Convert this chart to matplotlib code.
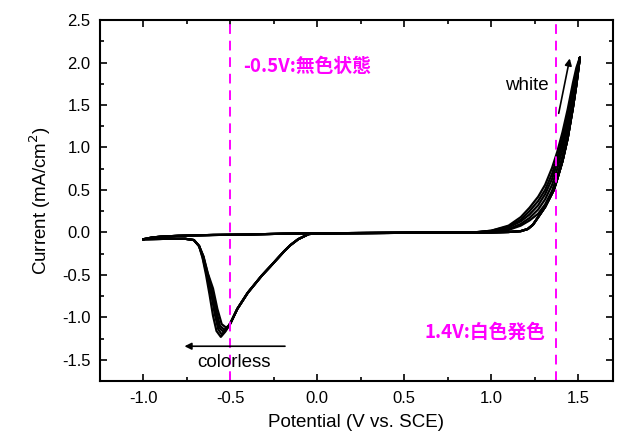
import numpy as np
import matplotlib
matplotlib.use("Agg")
import matplotlib.pyplot as plt
from matplotlib.ticker import MultipleLocator

plt.rcParams["font.family"] = ["Liberation Sans", "DejaVu Sans"]
plt.rcParams["axes.unicode_minus"] = False

# CV DATA ================================================================================

# anodic sweep, -1.0 V -> 1.51 V (common potentials, one current list per cycle)
E_fwd_base = [-1.00, -0.95, -0.90, -0.80, -0.60, -0.40, -0.20, 0.00, 0.50]
I_fwd_base = [-0.08, -0.06, -0.05, -0.04, -0.03, -0.025, -0.015, -0.01, -0.005]
E_fwd_rise = [0.90, 1.00, 1.10, 1.17, 1.22, 1.27, 1.31, 1.35, 1.38, 1.41, 1.44, 1.47, 1.49, 1.51]
I_fwd_rise = [
    [0.00, 0.02, 0.08, 0.18, 0.29, 0.42, 0.56, 0.76, 0.95, 1.18, 1.45, 1.76, 1.94, 2.06],
    [0.00, 0.02, 0.07, 0.15, 0.25, 0.37, 0.50, 0.69, 0.88, 1.11, 1.39, 1.70, 1.90, 2.06],
    [0.00, 0.015, 0.06, 0.13, 0.21, 0.32, 0.45, 0.63, 0.82, 1.05, 1.32, 1.64, 1.86, 2.06],
    [0.00, 0.01, 0.04, 0.10, 0.17, 0.27, 0.39, 0.56, 0.75, 0.98, 1.25, 1.58, 1.82, 2.06],
    [0.00, 0.01, 0.03, 0.08, 0.14, 0.22, 0.33, 0.49, 0.67, 0.90, 1.17, 1.52, 1.78, 2.06],
]

# cathodic sweep, 1.51 V -> -0.50 V (shared by all cycles)
E_rev = [1.51, 1.49, 1.47, 1.44, 1.41, 1.38, 1.36, 1.33, 1.31, 1.27, 1.24, 1.21, 1.17,
         1.10, 1.00, 0.50, 0.00, -0.05, -0.08, -0.11, -0.155, -0.19, -0.23, -0.27, -0.32,
         -0.36, -0.40, -0.46, -0.50]
I_rev = [2.06, 1.74, 1.47, 1.11, 0.84, 0.63, 0.50, 0.38, 0.30, 0.18, 0.09, 0.04, 0.015,
         0.005, 0.00, -0.005, -0.01, -0.02, -0.05, -0.08, -0.15, -0.22, -0.31, -0.40, -0.51,
         -0.61, -0.71, -0.90, -1.07]

# reduction peak (colourless state), -0.50 V -> -1.0 V, one list per cycle
E_peak = [
    [-0.50, -0.53, -0.555, -0.58, -0.60, -0.62, -0.64, -0.66, -0.68, -0.71, -0.76, -0.85, -1.00],
    [-0.50, -0.525, -0.55, -0.57, -0.59, -0.61, -0.635, -0.66, -0.68, -0.71, -0.76, -0.85, -1.00],
    [-0.50, -0.52, -0.54, -0.565, -0.585, -0.61, -0.635, -0.655, -0.68, -0.71, -0.76, -0.85, -1.00],
    [-0.50, -0.515, -0.535, -0.56, -0.58, -0.605, -0.63, -0.655, -0.68, -0.71, -0.76, -0.85, -1.00],
    [-0.50, -0.51, -0.525, -0.55, -0.575, -0.60, -0.63, -0.655, -0.68, -0.71, -0.76, -0.85, -1.00],
]
I_peak = [
    [-1.07, -1.17, -1.23, -1.16, -0.98, -0.73, -0.50, -0.30, -0.16, -0.09, -0.075, -0.075, -0.08],
    [-1.07, -1.15, -1.20, -1.14, -0.96, -0.72, -0.50, -0.29, -0.16, -0.09, -0.075, -0.075, -0.08],
    [-1.07, -1.13, -1.17, -1.12, -0.95, -0.72, -0.49, -0.29, -0.16, -0.09, -0.075, -0.075, -0.08],
    [-1.07, -1.11, -1.145, -1.10, -0.93, -0.68, -0.49, -0.29, -0.16, -0.09, -0.075, -0.075, -0.08],
    [-1.07, -1.10, -1.12, -1.08, -0.90, -0.66, -0.48, -0.28, -0.16, -0.09, -0.075, -0.075, -0.08],
]

marker_lines = [-0.50, 1.375]

# PLOT ===================================================================================

fig = plt.figure(figsize=(6.21, 4.36), dpi=100)
ax = fig.add_axes([0.161, 0.126, 0.826, 0.828])

for k in range(len(I_fwd_rise)):
    E = E_fwd_base + E_fwd_rise + E_rev[1:] + E_peak[k][1:]
    I = I_fwd_base + I_fwd_rise[k] + I_rev[1:] + I_peak[k][1:]
    ax.plot(E, I, color="black", lw=1.6, solid_joinstyle="round")

for x in marker_lines:
    ax.axvline(x, color="#ff00ff", lw=1.4, ls=(0, (5, 3.5)))

ax.set_xlim(-1.25, 1.70)
ax.set_ylim(-1.75, 2.5)
ax.xaxis.set_major_locator(MultipleLocator(0.5))
ax.xaxis.set_minor_locator(MultipleLocator(0.25))
ax.yaxis.set_major_locator(MultipleLocator(0.5))
ax.yaxis.set_minor_locator(MultipleLocator(0.25))
ax.xaxis.set_major_formatter(plt.FormatStrFormatter("%.1f"))
ax.yaxis.set_major_formatter(plt.FormatStrFormatter("%.1f"))
ax.tick_params(which="both", direction="in", top=True, right=True, width=1.2)
ax.tick_params(which="major", length=5, labelsize=12, pad=7)
ax.tick_params(which="minor", length=3)
for s in ax.spines.values():
    s.set_linewidth(1.5)

ax.set_xlabel("Potential (V vs. SCE)", fontsize=13.5, labelpad=6)
ax.set_ylabel("Current (mA/cm$^2$)", fontsize=13.5, labelpad=6)

cjk = ["Noto Sans CJK JP", "DejaVu Sans"]
ax.text(-0.425, 1.95, "-0.5V:無色状態", color="#ff00ff", fontsize=13.5,
        fontweight="bold", family=cjk, va="center", ha="left")
ax.text(1.31, -1.18, "1.4V:白色発色", color="#ff00ff", fontsize=13.5,
        fontweight="bold", family=cjk, va="center", ha="right")

ax.annotate("", xy=(-0.78, -1.34), xytext=(-0.17, -1.34),
            arrowprops=dict(arrowstyle="-|>", color="black", lw=1.2, mutation_scale=10))
ax.text(-0.48, -1.53, "colorless", fontsize=13.5, ha="center", va="center")

ax.annotate("", xy=(1.455, 2.08), xytext=(1.385, 1.37),
            arrowprops=dict(arrowstyle="-|>", color="black", lw=1.2, mutation_scale=10))
ax.text(1.33, 1.73, "white", fontsize=13.5, ha="right", va="center")

fig.savefig("out.png", dpi=100)
